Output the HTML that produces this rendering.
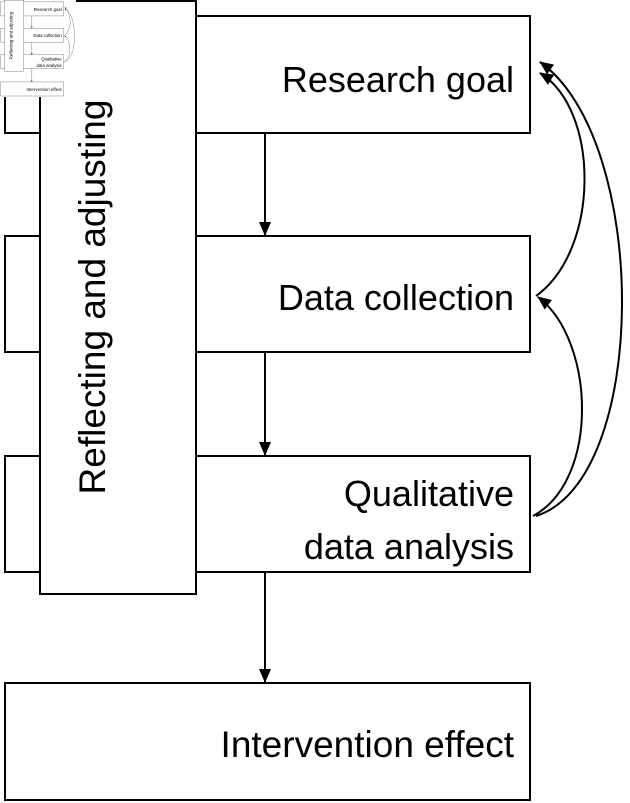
<!DOCTYPE html>
<html><head><meta charset="utf-8"><style>
html,body{margin:0;padding:0;background:#fff;}
svg{display:block;}
text{font-family:"Liberation Sans","DejaVu Sans",sans-serif;fill:#000;}
</style></head><body>
<svg width="630" height="803" viewBox="0 0 630 803" xmlns="http://www.w3.org/2000/svg">
<defs>
<marker id="ah2" markerWidth="14" markerHeight="12" refX="13" refY="6" orient="auto" markerUnits="userSpaceOnUse"><path d="M0,0 L14,6 L0,12 z" fill="#000"/></marker>
<g id="dia">
<rect x="5" y="16" width="525" height="117" fill="#fff" stroke="#000" stroke-width="2"/>
<rect x="5" y="236" width="525" height="116" fill="#fff" stroke="#000" stroke-width="2"/>
<rect x="5" y="456" width="525" height="116" fill="#fff" stroke="#000" stroke-width="2"/>
<rect x="5" y="683" width="525" height="117" fill="#fff" stroke="#000" stroke-width="2"/>
<rect x="40" y="1" width="156" height="593" fill="#fff" stroke="#000" stroke-width="2"/>
<text x="514" y="92" font-size="36" text-anchor="end">Research goal</text>
<text x="514" y="310" font-size="36" text-anchor="end">Data collection</text>
<text x="514" y="506" font-size="36" text-anchor="end">Qualitative</text>
<text x="514" y="559" font-size="36" text-anchor="end">data analysis</text>
<text x="514" y="757" font-size="37" text-anchor="end">Intervention effect</text>
<text transform="translate(105,297) rotate(-90)" font-size="37" text-anchor="middle">Reflecting and adjusting</text>
<g stroke="#000" stroke-width="2" fill="none">
<line x1="265" y1="133" x2="265" y2="235" marker-end="url(#ah2)"/>
<line x1="265" y1="352" x2="265" y2="455" marker-end="url(#ah2)"/>
<line x1="265" y1="572" x2="265" y2="682" marker-end="url(#ah2)"/>
<path d="M533,516 C600,480 595,340 538,297" marker-end="url(#ah2)"/>
<path d="M536,296 C600,250 600,110 540,73" marker-end="url(#ah2)"/>
<path d="M536,516 C650,480 650,140 540,62" marker-end="url(#ah2)"/>
</g>
</g>
</defs>
<use href="#dia"/>
<rect x="0" y="0" width="76" height="97" fill="#fff"/>
<g transform="translate(0,0) scale(0.12)">
<use href="#dia"/>
</g>
</svg>
</body></html>
